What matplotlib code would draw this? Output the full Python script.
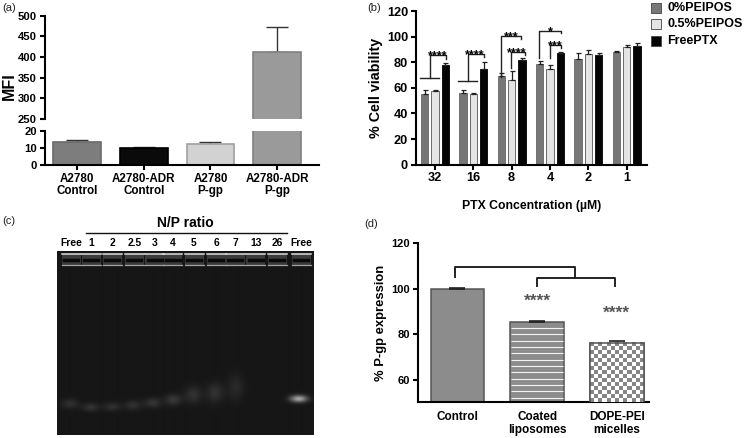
import numpy as np
import matplotlib
matplotlib.use("Agg")
import matplotlib.pyplot as plt

plt.rcParams["font.family"] = ["Liberation Sans", "DejaVu Sans"]
plt.rcParams["font.weight"] = "bold"
plt.rcParams["axes.labelweight"] = "bold"

W, H = 745, 438

# panel a
a_labels = ["A2780\nControl", "A2780-ADR\nControl", "A2780\nP-gp", "A2780-ADR\nP-gp"]
a_values = [13.5, 10, 12.5, 412]
a_err = [1.2, 0.7, 1.3, 60]
a_colors = ["#7d7d7d", "#0a0a0a", "#d2d2d2", "#9a9a9a"]
a_edges = ["#6a6a6a", "#000000", "#a0a0a0", "#808080"]

# panel b
b_conc = ["32", "16", "8", "4", "2", "1"]
b_peipos0 = [55, 56, 69, 79, 82.5, 88]
b_peipos0_err = [3, 2, 2.5, 2, 5, 0.5]
b_peipos05 = [57.5, 55.5, 66.5, 75, 86.5, 92]
b_peipos05_err = [0.5, 0.5, 6.5, 3, 3, 1.5]
b_free = [78, 75, 82, 87, 86, 93]
b_free_err = [1.5, 5.5, 1, 1, 1, 2]

# panel c
c_lanes = ["Free", "1", "2", "2.5", "3", "4", "5", "6", "7", "13", "26", "Free"]
c_band_lane = [70, 90.7, 112, 132.7, 152.7, 173.3, 193.3, 215, 236, 299]
c_band_y = [404, 407.5, 407, 405.5, 403, 400, 395, 393, 387.5, 399]
c_band_peak = [48, 50, 48, 48, 52, 55, 50, 50, 42, 165]
c_band_sy = [3.5, 3, 3, 3.5, 3.5, 4, 6, 7, 9, 2.5]

# panel d
d_labels = ["Control", "Coated\nliposomes", "DOPE-PEI\nmicelles"]
d_values = [100, 85.3, 76.3]
d_err = [0.2, 0.5, 0.6]


def px_axes(x0, y0, x1, y1):
    return fig.add_axes([x0 / W, 1 - y1 / H, (x1 - x0) / W, (y1 - y0) / H])


def style(ax, fs, lw=1.5):
    ax.spines["top"].set_visible(False)
    ax.spines["right"].set_visible(False)
    ax.spines["left"].set_linewidth(lw)
    ax.spines["bottom"].set_linewidth(lw)
    ax.tick_params(width=lw, length=3.5, labelsize=fs, pad=2)


def bracket(ax, x0, y0, top, x1, y1, lw=1.0):
    ax.plot([x0, x0, x1, x1], [y0, top, top, y1], color="#222222", lw=lw, clip_on=False)


fig = plt.figure(figsize=(W / 100, H / 100), dpi=100)

# (a) broken axis
ax_hi = px_axes(44.7, 15.7, 319, 119)
ax_lo = px_axes(44.7, 131, 319, 165)
xa = np.arange(4)
ax_hi.bar(xa, a_values, width=0.72, color=a_colors, edgecolor=a_edges, linewidth=1.2, zorder=2)
ax_hi.errorbar(xa[3], a_values[3], yerr=[[0], [a_err[3]]], color="#333333", capsize=8, lw=1, capthick=1, zorder=1)
ax_hi.set_ylim(250, 500)
ax_hi.set_yticks(range(250, 501, 50))
ax_hi.spines["bottom"].set_visible(False)
ax_hi.set_xticks([])
ax_lo.bar(xa, a_values, width=0.72, color=a_colors, edgecolor=a_edges, linewidth=1.2, zorder=2)
ax_lo.errorbar(xa[:3], a_values[:3], yerr=[[0] * 3, a_err[:3]], fmt="none", ecolor="#333333", capsize=8, lw=1,
               capthick=1, zorder=1)
ax_lo.set_ylim(0, 20)
ax_lo.set_yticks([0, 10, 20])
ax_lo.set_xticks(xa)
ax_lo.set_xticklabels(a_labels, linespacing=1.05)
for ax in (ax_hi, ax_lo):
    ax.set_xlim(-0.49, 3.63)
    style(ax, 8.1)
ax_lo.tick_params(axis="x", labelsize=8.4)
fig.text(9 / W, 1 - 86 / H, "MFI", rotation=90, fontsize=11.5, ha="center", va="center")

# (b)
ax = px_axes(415.7, 11, 646.7, 164.7)
xb = np.arange(6)
off, bw = 0.27, 0.195
ekw = dict(capsize=1.8, lw=0.9, capthick=0.9, ecolor="#222222")
ax.bar(xb - off, b_peipos0, bw, yerr=[[0] * 6, b_peipos0_err], color="#777777", edgecolor="#666666", lw=0.6,
       error_kw=ekw, label="0%PEIPOS")
ax.bar(xb, b_peipos05, bw, yerr=[[0] * 6, b_peipos05_err], color="#e4e4e4", edgecolor="#555555", lw=0.6,
       error_kw=ekw, label="0.5%PEIPOS")
ax.bar(xb + off, b_free, bw, yerr=[[0] * 6, b_free_err], color="#050505", edgecolor="#000000", lw=0.6,
       error_kw=ekw, label="FreePTX")
ax.set_xlim(-0.50, 5.52)
ax.set_ylim(0, 120)
ax.set_yticks(range(0, 121, 20))
ax.set_xticks(xb)
ax.set_xticklabels(b_conc)
style(ax, 9.2)
ax.set_xlabel("PTX Concentration (µM)", fontsize=8.8, labelpad=11)
ax.set_ylabel("% Cell viability", fontsize=10.3, labelpad=3)
ax.plot([-0.39, 0.10], [67.4, 67.4], color="#222222", lw=1)
ax.plot([0.61, 1.09], [65.1, 65.1], color="#222222", lw=1)
bracket(ax, -0.14, 67.4, 85.4, 0.295, 82.3)
bracket(ax, 0.86, 65.1, 86.5, 1.29, 83.9)
bracket(ax, 1.71, 68.8, 100.8, 2.25, 98.2)
bracket(ax, 1.98, 75.3, 88.3, 2.35, 85.7)
bracket(ax, 2.72, 83.1, 104.7, 3.29, 102.6)
bracket(ax, 2.99, 83.1, 93.5, 3.29, 90.9)
for sx, sy, s in [(0.08, 84.5, "****"), (1.04, 85.4, "****"), (2.0, 99.8, "***"), (2.12, 87.2, "****"),
                  (3.01, 103.6, "*"), (3.13, 92.4, "***")]:
    ax.text(sx, sy, s, fontsize=9, ha="center", va="center")
h, l = ax.get_legend_handles_labels()
for i, (hh, ll) in enumerate(zip(h, l)):
    y = [8, 24.3, 41][i]
    fig.patches.append(plt.Rectangle((650.7 / W, 1 - (y + 5) / H), 10.3 / W, 10 / H, transform=fig.transFigure,
                                     facecolor=hh[0].get_facecolor(), edgecolor="#444444", lw=0.6))
    fig.text(667 / W, 1 - y / H, ll, fontsize=9, va="center")

# (c) gel
gx = np.arange(57, 314.5, 0.5)
gy = np.arange(250.5, 435.5, 0.5)
X, Y = np.meshgrid(gx, gy)
gel = np.full(X.shape, 22.0)
for lx, ly, pk, sy in zip(c_band_lane, c_band_y, c_band_peak, c_band_sy):
    gel += (pk - 22) * np.exp(-((X - lx) / 6) ** 2 / 2 - ((Y - ly) / sy) ** 2 / 2)
ax = px_axes(57, 250.7, 314, 435)
ax.imshow(gel, cmap="gray", vmin=0, vmax=255, extent=[57, 314, 435, 250.7], aspect="auto", interpolation="bilinear")
ax.set_axis_off()
lane_px = [71.3, 91, 112.3, 134.3, 154.7, 172.7, 194, 216.3, 235.3, 255.7, 277.3, 301.3]
for lx in lane_px:
    ax.fill_between([lx - 9.5, lx + 9.5], 254, 265, color="#3c3c3c", lw=0)
    ax.plot([lx - 7, lx + 7], [260, 260], color="#0a0a0a", lw=2.5)
    ax.plot([lx - 9.5, lx + 9.5], [254.5, 254.5], color="#dddddd", lw=1.1)
    ax.plot([lx - 9.5, lx + 9.5], [265.5, 265.5], color="#a0a0a0", lw=0.9)
ax.set_xlim(57, 314)
ax.set_ylim(435, 250.7)
for lx, lab in zip(lane_px, c_lanes):
    fig.text(lx / W, 1 - 243 / H, lab, fontsize=7.4, ha="center", va="center")
fig.text(185.7 / W, 1 - 223.3 / H, "N/P ratio", fontsize=10, ha="center", va="center")
fig.add_artist(plt.Line2D([85.7 / W, 286.7 / W], [1 - 233.3 / H] * 2, color="#111111", lw=1))

# (d)
ax = px_axes(417.7, 243.3, 649, 402.3)
xd = np.arange(3)
bars = ax.bar(xd, d_values, width=0.67, color=["#8c8c8c", "#8c8c8c", "#ffffff"], edgecolor="#555555", linewidth=1.1,
              yerr=[[0] * 3, d_err], error_kw=dict(capsize=6, lw=1, capthick=1.2, ecolor="#222222"))
ax.hlines(np.arange(52, d_values[1], 2.8), xd[1] - 0.325, xd[1] + 0.325, color="#f2f2f2", lw=0.8, zorder=3)
checker = np.indices((15, 13)).sum(axis=0) % 2
im = ax.imshow(checker, cmap="gray", vmin=-1.1, vmax=1, extent=[xd[2] - 0.335, xd[2] + 0.335, 50, d_values[2]],
               aspect="auto", interpolation="nearest", zorder=3)
ax.bar(xd[2], d_values[2], width=0.67, fill=False, edgecolor="#555555", linewidth=1.1, zorder=4)
ax.set_xlim(-0.498, 2.404)
ax.set_ylim(50, 120)
ax.set_yticks([60, 80, 100, 120])
ax.set_xticks(xd)
ax.set_xticklabels(d_labels, linespacing=1.2)
style(ax, 8)
ax.tick_params(axis="x", length=0, labelsize=8.5, pad=6)
ax.set_ylabel("% P-gp expression", fontsize=9.4, labelpad=3)
bracket(ax, -0.03, 105, 109.6, 1.475, 104.7, lw=1.4)
bracket(ax, 0.995, 101.2, 104.7, 1.974, 101.2, lw=1.4)
ax.text(1.0, 94.5, "****", fontsize=12.5, color="#555555", ha="center", va="center")
ax.text(2.0, 89, "****", fontsize=12.5, color="#555555", ha="center", va="center")

for x, y, s in [(2, 8, "(a)"), (367, 8, "(b)"), (2, 220.7, "(c)"), (364, 224, "(d)")]:
    fig.text(x / W, 1 - y / H, s, fontsize=8, fontweight="normal", va="center", color="#222222")

fig.savefig("out.png", dpi=100)
